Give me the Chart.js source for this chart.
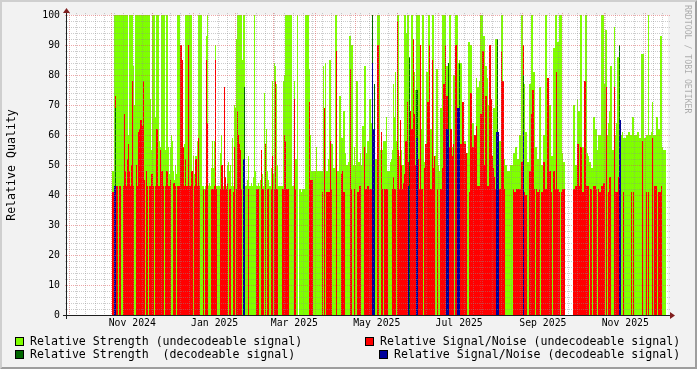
<!DOCTYPE html>
<html>
<head>
<meta charset="utf-8">
<script src="https://cdn.jsdelivr.net/npm/chart.js@4.4.1/dist/chart.umd.min.js"></script>
<style>
  html, body { margin: 0; padding: 0; background: #f2f2f2; }
  canvas { display: block; }
</style>
</head>
<body>
<canvas id="myChart" width="697" height="369"></canvas>
<script>
// one value per graph column, first column = 1 Nov 2024
const DAYS_PER_STEP = 365 / 493;

const strengthUndecoded = [
  48,48,100,100,100,100,100,100,100,100, 100,100,100,100,100,100,60,100,100,100,
  100,83,70,100,100,100,100,100,100,100, 100,100,100,100,100,100,100,100,72,55,
  100,100,100,66,100,100,100,58,56,100, 100,100,100,55,100,100,56,47,56,60,
  58,48,45,50,47,100,100,100,90,90, 85,50,57,100,100,100,100,100,100,100,
  48,53,47,53,53,58,100,100,100,100, 43,43,42,43,93,100,43,44,43,49,
  58,49,58,90,43,43,43,43,54,60, 46,43,76,46,43,50,51,48,50,43,
  59,43,70,69,92,100,100,100,100,100, 85,100,100,43,43,45,53,43,43,44,
  43,46,100,48,43,43,44,43,45,55, 47,43,74,57,62,48,45,43,43,49,
  78,47,84,83,77,50,43,43,43,43, 43,78,80,100,100,100,100,100,100,100,
  43,43,78,52,52,100,null,42,42,41, 42,42,42,100,100,100,100,82,60,48,
  48,48,48,48,56,48,48,48,48,48, 48,83,56,84,48,48,52,85,85,57,
  57,49,49,100,100,48,48,73,73,59, 59,68,68,54,50,50,51,93,93,90,
  90,50,56,50,78,78,51,51,54,50, 63,63,83,83,54,58,58,72,72,64,
  100,50,77,52,52,100,100,100,55,55, 55,58,58,58,66,48,48,48,51,52,
  55,77,66,81,58,100,100,53,50,55, 50,50,100,100,94,100,100,62,62,100,
  100,81,81,75,100,100,100,100,62,62, 100,100,51,51,81,81,100,100,62,62,
  100,100,53,53,82,82,50,48,69,69, 100,100,100,100,83,83,83,100,100,56,
  56,80,80,100,100,100,84,85,84,84, 60,60,58,58,54,54,91,91,90,90,
  64,64,60,60,79,76,76,78,100,100, 100,93,93,83,83,79,70,70,70,60,
  52,69,69,92,92,52,52,58,58,100, 100,52,52,50,50,48,48,48,50,50,
  50,54,54,56,56,52,52,60,60,100, 100,77,77,61,61,51,51,77,77,100,
  100,81,81,56,56,52,52,76,76,50, 50,60,60,100,100,54,54,70,70,53,
  53,89,89,100,100,91,91,100,100,100, 54,51,51,null,null,null,null,null,null,null,
  null,70,70,50,50,72,68,68,100,100, 56,56,56,100,100,54,53,51,51,49,
  49,66,66,62,62,55,60,60,60,100, 100,100,77,95,95,60,64,68,83,83,
  55,55,96,60,64,86,86,90,60,60, 61,59,59,59,60,60,61,61,60,60,
  66,66,60,60,60,61,61,59,59,87, 87,87,59,59,60,60,100,60,60,61,
  71,60,60,60,66,66,62,62,93,93, 56,55,55,55
];

const snrUndecoded = [
  41,41,43,73,43,43,0,43,43,0, 0,43,67,48,43,52,57,48,43,50,
  78,43,0,0,50,43,61,62,65,65, 63,78,45,0,48,43,0,43,43,47,
  47,43,0,43,62,62,43,43,55,48, 48,43,0,43,48,48,43,43,45,0,
  0,44,44,43,0,43,43,43,90,90, 85,56,43,52,43,43,90,43,43,48,
  48,0,43,52,52,43,59,43,0,0, 0,42,0,42,85,64,0,0,0,42,
  42,42,43,85,42,0,0,0,42,50, 50,42,76,46,42,44,0,42,42,0,
  0,41,56,0,42,68,60,57,55,42, 0,52,52,0,0,0,42,0,0,0,
  0,0,0,0,42,42,42,0,0,55, 42,42,0,57,0,42,42,0,0,42,
  53,0,42,78,42,42,0,0,0,0, 42,42,60,58,42,42,42,0,0,0,
  0,0,72,42,0,0,null,0,0,0, 0,0,0,0,0,0,0,71,45,45,
  45,0,0,0,0,0,0,0,0,0, 41,0,69,0,41,41,41,41,58,42,
  0,0,0,0,88,0,0,0,0,47, 48,41,41,0,0,0,0,0,82,42,
  0,0,42,0,0,41,41,43,43,0, 0,0,56,42,42,43,43,42,42,42,
  50,42,42,0,0,90,90,0,0,61, 42,0,42,42,42,42,0,0,0,0,
  42,46,42,42,0,98,55,42,65,50, 42,44,47,58,58,71,51,68,68,62,
  62,92,67,50,59,55,52,42,90,42, 42,0,49,57,57,71,71,90,42,42,
  85,49,53,0,0,42,0,0,42,42, 49,77,77,90,73,73,56,56,62,62,
  53,57,0,90,90,57,57,51,57,57, 71,71,57,57,54,0,0,41,74,74,
  56,56,60,60,63,43,43,43,67,67, 88,88,50,73,73,43,43,90,90,72,
  53,49,46,42,61,61,42,42,42,88, 78,78,42,0,0,0,0,0,0,0,
  0,42,41,41,42,42,42,42,42,51, 51,90,41,40,40,0,0,48,48,67,
  75,75,42,0,42,41,41,42,0,41, 41,51,51,42,42,79,79,48,48,41,
  0,48,48,42,81,42,42,41,0,41, 42,42,42,null,null,null,null,null,null,null,
  null,42,42,43,43,57,57,43,56,56, 41,41,78,78,43,43,43,0,42,42,
  0,43,43,43,42,0,42,41,41,43, 43,44,44,0,76,0,41,46,46,0,
  0,0,76,41,41,41,46,46,41,0, 0,41,0,0,0,0,0,0,0,41,
  0,41,0,0,0,0,0,0,0,0, 58,0,0,0,41,0,41,0,0,0,
  59,0,43,43,43,0,41,41,41,43, 0,0,0,0
];

// columns where a decodeable signal was seen
const decodedSteps     = [2,3,131,132,260,261,262,296,297,304,305,334,335,336,345,346,347,384,385,386,411,507,508];
const strengthDecoded  = [0,69,0,76,100,62,77,0,86,75,75,0,0,84,0,0,84,0,92,0,80,90,0];
const snrDecoded       = [43,43,52,52,84,62,62,43,0,59,59,62,62,62,69,69,69,61,61,61,61,65,65];

const monthLabels = ['Nov 2024','Jan 2025','Mar 2025','May 2025','Jul 2025','Sep 2025','Nov 2025'];
const labelMonths = [[2024,10],[2025,0],[2025,2],[2025,4],[2025,6],[2025,8],[2025,10]];
const yTicks = [0,10,20,30,40,50,60,70,80,90,100];

const DAY = 86400000;
const T0 = Date.UTC(2024, 10, 1);
const dayOf = (y, m, d) => (Date.UTC(y, m, d) - T0) / DAY;
const X_MIN = -45 * DAYS_PER_STEP;
const X_MAX = 556 * DAYS_PER_STEP;

const pts = arr => arr.map((v, i) => ({x: (i + 0.5) * DAYS_PER_STEP, y: v}));
const sparse = arr => decodedSteps.map((s, k) => ({x: (s + 0.5) * DAYS_PER_STEP, y: arr[k] || null}));

const labelDays = labelMonths.map(([y, m]) => dayOf(y, m, 1) + 15);
const monthDays = [];
for (let k = -2; k <= 14; k++) monthDays.push(dayOf(2024, 10 + k, 1));
const weekDays = [];
for (let d = dayOf(2024, 9, 27) - 70; d < X_MAX; d += 7) weekDays.push(d);

const FONT = 'DejaVu Sans Mono';
const COLORS = ['#7fff00', '#ff0000', '#006600', '#000099'];

function dotsH(ctx, y, x0, x1) { for (let x = x0; x <= x1; x += 2) ctx.fillRect(x, y, 1, 1); }
function dotsV(ctx, x, y0, y1) { for (let y = y0; y <= y1; y += 2) ctx.fillRect(x, y, 1, 1); }

const rrdPlugin = {
  id: 'rrd',
  beforeDraw(chart) {
    const {ctx, chartArea: a} = chart;
    const W = chart.width, H = chart.height;
    ctx.save();
    ctx.fillStyle = '#f2f2f2';
    ctx.fillRect(0, 0, W, H);
    ctx.fillStyle = '#cfcfcf';
    ctx.beginPath();
    ctx.moveTo(0, H); ctx.lineTo(2, H - 2); ctx.lineTo(2, 2); ctx.lineTo(W - 2, 2); ctx.lineTo(W, 0); ctx.lineTo(0, 0);
    ctx.closePath(); ctx.fill();
    ctx.fillStyle = '#9e9e9e';
    ctx.beginPath();
    ctx.moveTo(2, H - 2); ctx.lineTo(W - 2, H - 2); ctx.lineTo(W - 2, 2); ctx.lineTo(W, 0); ctx.lineTo(W, H); ctx.lineTo(0, H);
    ctx.closePath(); ctx.fill();
    ctx.fillStyle = '#ffffff';
    ctx.fillRect(a.left, a.top, a.right - a.left, a.bottom - a.top);
    ctx.restore();
  },
  afterDatasetsDraw(chart) {
    const {ctx, chartArea: a, scales: {x, y}} = chart;
    const L = Math.round(a.left), R = Math.round(a.right), T = Math.round(a.top), B = Math.round(a.bottom);
    ctx.save();
    // minor grid
    ctx.fillStyle = 'rgba(143,143,143,0.45)';
    for (let v = 2; v < 100; v += 2) {
      if (v % 10 === 0) continue;
      const py = Math.round(y.getPixelForValue(v));
      dotsH(ctx, py, L - 2, R + 1);
    }
    weekDays.forEach(d => {
      const px = Math.floor(x.getPixelForValue(d) - 0.5);
      if (px <= L || px >= R) return;
      dotsV(ctx, px, T - 2, B + 1);
    });
    // major grid
    ctx.fillStyle = 'rgba(222,79,79,0.5)';
    for (let v = 10; v <= 100; v += 10) {
      const py = Math.round(y.getPixelForValue(v));
      dotsH(ctx, py, L - 2, R + 1);
    }
    monthDays.forEach(d => {
      const px = Math.floor(x.getPixelForValue(d) - 0.5);
      if (px <= L || px >= R) return;
      dotsV(ctx, px, T - 2, B + 1);
    });
    // axes
    ctx.fillStyle = '#1f1f1f';
    ctx.fillRect(L - 4, B, R - L + 8, 1);
    ctx.fillRect(L - 1, T - 4, 1, B - T + 8);
    // arrows
    ctx.fillStyle = '#801f1f';
    ctx.beginPath();
    ctx.moveTo(R + 2, B - 3); ctx.lineTo(R + 2, B + 4); ctx.lineTo(R + 7, B + 0.5); ctx.closePath(); ctx.fill();
    ctx.beginPath();
    ctx.moveTo(L - 4, T - 2); ctx.lineTo(L + 3, T - 2); ctx.lineTo(L - 0.5, T - 7); ctx.closePath(); ctx.fill();
    ctx.restore();
  },
  afterDraw(chart) {
    const ctx = chart.ctx;
    const items = [
      {c: 0, text: 'Relative Strength (undecodeable signal)', bx: 15, by: 337},
      {c: 1, text: 'Relative Signal/Noise (undecodeable signal)', bx: 365, by: 337},
      {c: 2, text: 'Relative Strength  (decodeable signal)', bx: 15, by: 350},
      {c: 3, text: 'Relative Signal/Noise (decodeable signal)', bx: 379, by: 350}
    ];
    ctx.save();
    ctx.font = '11.6px "' + FONT + '"';
    ctx.textBaseline = 'middle';
    items.forEach(it => {
      ctx.fillStyle = COLORS[it.c];
      ctx.fillRect(it.bx, it.by, 9, 9);
      ctx.strokeStyle = '#000';
      ctx.lineWidth = 1;
      ctx.strokeRect(it.bx + 0.5, it.by + 0.5, 8, 8);
      ctx.fillStyle = '#000';
      ctx.fillText(it.text, it.bx + 15, it.by + 5);
    });
    // watermark
    ctx.font = '8.2px "' + FONT + '"';
    ctx.fillStyle = 'rgba(0,0,0,0.3)';
    ctx.translate(687, 5);
    ctx.rotate(Math.PI / 2);
    ctx.textBaseline = 'middle';
    ctx.fillText('RRDTOOL / TOBI OETIKER', 0, 0);
    ctx.restore();
  }
};

const tickFont = {family: FONT, size: 9.8};

const config = {
  type: 'bar',
  data: {
    datasets: [
      {label: 'Relative Strength (undecodeable signal)', data: pts(strengthUndecoded), backgroundColor: COLORS[0], order: 4},
      {label: 'Relative Signal/Noise (undecodeable signal)', data: pts(snrUndecoded), backgroundColor: COLORS[1], order: 3},
      {label: 'Relative Strength  (decodeable signal)', data: sparse(strengthDecoded), backgroundColor: COLORS[2], order: 2},
      {label: 'Relative Signal/Noise (decodeable signal)', data: sparse(snrDecoded), backgroundColor: COLORS[3], order: 1}
    ]
  },
  options: {
    responsive: false,
    animation: false,
    devicePixelRatio: 1,
    layout: {padding: {top: 15, right: 29, bottom: 0, left: 0}},
    plugins: {legend: {display: false}, tooltip: {enabled: false}},
    datasets: {
      bar: {grouped: false, barPercentage: 1, categoryPercentage: 1, borderWidth: 0, inflateAmount: 0}
    },
    scales: {
      x: {
        type: 'linear',
        offset: false,
        min: X_MIN,
        max: X_MAX,
        grid: {display: false, drawTicks: false},
        border: {display: false},
        afterBuildTicks: s => { s.ticks = labelDays.map(v => ({value: v})); },
        afterFit: s => { s.height = 54; },
        ticks: {
          autoSkip: false, maxRotation: 0, padding: 3, color: '#000', font: tickFont,
          callback: (v, i) => monthLabels[i]
        }
      },
      y: {
        min: 0,
        max: 100,
        grid: {display: false, drawTicks: false},
        border: {display: false},
        afterBuildTicks: s => { s.ticks = yTicks.map(v => ({value: v})); },
        afterFit: s => { s.width = 67; },
        ticks: {padding: 7, color: '#000', font: tickFont},
        title: {
          display: true, text: 'Relative Quality', color: '#000',
          font: {family: FONT, size: 11.6}, padding: {top: 5, bottom: 0}
        }
      }
    }
  },
  plugins: [rrdPlugin]
};

const myChart = new Chart(document.getElementById('myChart'), config);
</script>
</body>
</html>
